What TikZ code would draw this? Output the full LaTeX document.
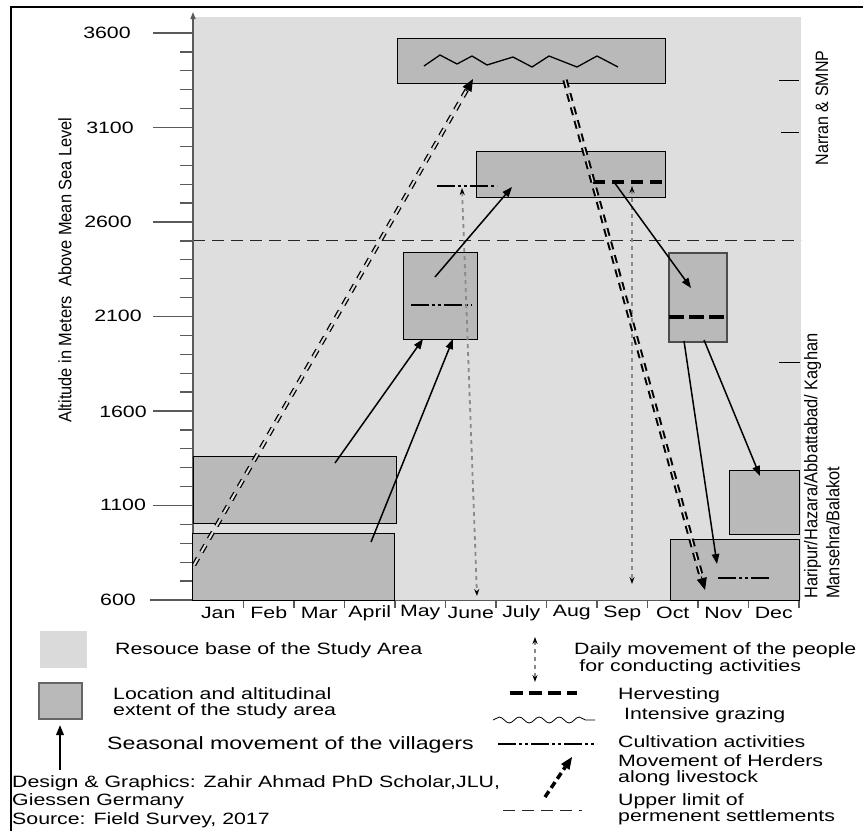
\documentclass[tikz,border=0pt]{standalone}
\usepackage{fontspec}
\setmainfont{Liberation Sans}
\newcommand{\wtx}[1]{\scalebox{1.3}[1]{#1}}
\newcommand{\wtab}[1]{\scalebox{1.3}[1]{\begin{tabular}{@{}l@{}}#1\end{tabular}}}
\usetikzlibrary{arrows.meta,decorations.pathmorphing,calc}
\definecolor{plotbg}{HTML}{DEDEDE}
\definecolor{legbg}{HTML}{DADADA}
\definecolor{boxfill}{HTML}{B9B9B9}
\definecolor{axisgray}{HTML}{5A5A5A}
\definecolor{dotgray}{HTML}{8A8A8A}
\definecolor{legborder}{HTML}{666666}
\begin{document}
\begin{tikzpicture}[x=1pt,y=-1pt,
  lbl/.style={inner sep=0pt, font=\fontsize{16.4}{15.5}\selectfont},
  legtext/.style={lbl, anchor=west},
  areabox/.style={draw=black, line width=1.1pt, fill=boxfill, inner sep=0pt, anchor=north west},
  villager/.style={draw=black, line width=1.5pt, -{Triangle[length=10pt,width=7.5pt]}},
  herdline/.style={draw=black, line width=1.3pt, double=plotbg, double distance=2pt, dash pattern=on 8pt off 7pt},
  herdbold/.style={draw=black, line width=2pt, double=plotbg, double distance=1.3pt, dash pattern=on 8pt off 6pt},
  herdtip/.style={draw=black, line width=1pt, -{Triangle[length=12pt,width=10pt]}},
  daily/.style={draw=dotgray, line width=1.8pt, dash pattern=on 4pt off 4pt, {Stealth[length=7pt,width=5pt,color=black]}-{Stealth[length=7pt,width=5pt,color=black]}},
  harvest/.style={draw=black, line width=4pt, dash pattern=on 12pt off 7pt},
  cultiv/.style={draw=black, line width=2.2pt, dash pattern=on 18pt off 3pt on 3pt off 3pt on 3pt off 3pt},
  limitline/.style={draw=black!85, line width=1pt, dash pattern=on 12pt off 7pt},
  minortick/.style={draw=axisgray, line width=1.3pt},
]
\useasboundingbox (0,0) rectangle (863,831);
% frame
\draw[black, line width=1.2pt] (11,831) -- (11,7) -- (863,7);
% plot background
\fill[plotbg] (193,17) rectangle (801,600);
% upper limit of permanent settlements
\draw[limitline] (193,240) -- (801,240);
% ticks
\foreach \i in {0,...,30} {\pgfmathsetmacro\yy{600-\i*18.9}\draw[minortick] (180,\yy) -- (193,\yy);}
\foreach \i in {5,10,...,30} {\pgfmathsetmacro\yy{600-\i*18.9}\draw[minortick] (153,\yy) -- (193,\yy);}
\draw[minortick] (150,600) -- (193,600);
\foreach \t/\x/\y in {3600/107/33,3100/110/128,2600/108/222,2100/118/316,1600/123/412,1100/123/505,600/118/600}
  \node[lbl] (tick\t) at (\x,\y) {\wtx{\t}};
% x axis
\draw[axisgray, line width=1pt] (193,600) -- (800,600);
\foreach \i in {1,...,12} \draw[axisgray, line width=1.2pt] ({193+50.5*\i},600) -- ({193+50.5*\i},608);
\foreach \m [count=\i from 0] in {Jan,Feb,Mar,April,May,June,July,Aug,Sep,Oct,Nov,Dec}
  \node[lbl] (month\i) at ({193+50.5*(\i+0.5)},613) {\wtx{\m}};
% y axis
\draw[axisgray, line width=1.5pt, -{Triangle[length=7pt,width=5pt]}] (193,600) -- (193,12);
% right ticks
\draw[black, line width=0.9pt] (779,80) -- (799,80);
\draw[black, line width=0.9pt] (781,132) -- (799,132);
\draw[black, line width=0.9pt] (779,362) -- (800,362);
% boxes
\node[areabox, minimum width=268pt, minimum height=45pt] (btop) at (397,38) {};
\node[areabox, minimum width=189pt, minimum height=46pt] (bjul) at (476,151) {};
\node[areabox, minimum width=74pt, minimum height=87pt] (bmay) at (403,252) {};
\node[areabox, minimum width=58pt, minimum height=89pt, draw=black!70, line width=1.5pt] (boct) at (668,252) {};
\node[areabox, minimum width=203pt, minimum height=67pt] (bjanhi) at (193,456) {};
\node[areabox, minimum width=202pt, minimum height=67pt] (bjanlo) at (192,533) {};
\node[areabox, minimum width=70pt, minimum height=64pt] (bdechi) at (729,470) {};
\node[areabox, minimum width=129pt, minimum height=61pt] (bdeclo) at (670,539) {};
% intensive grazing
\draw[black, line width=1.3pt, line join=miter] (424,66) -- (440,55) -- (457,64) -- (472,56) -- (487,65) -- (513,57) -- (532,67) -- (549,56) -- (577,67) -- (597,56) -- (618,67);
% cultivation
\draw[cultiv] (411,305) -- (472,305);
\draw[cultiv] (437,186) -- (497,186);
\draw[cultiv] (718,578) -- (771,578);
% harvesting
\draw[harvest] (593,182) -- (663,182);
\draw[harvest, dash pattern=on 15pt off 5pt, line width=4.5pt] (669,317) -- (726,317);
% daily movement
\coordinate (d1a) at (462,188); \coordinate (d1b) at (477,596);
\coordinate (d2a) at (632,186); \coordinate (d2b) at (632,584);
\draw[daily] (d1a) -- (d1b);
\draw[daily] (d2a) -- (d2b);
% seasonal movement of villagers
\coordinate (v1a) at (335,463); \coordinate (v1b) at (423,339);
\coordinate (v2a) at (371,542); \coordinate (v2b) at (453,339);
\coordinate (v3a) at (435,277); \coordinate (v3b) at (512,187);
\coordinate (v4a) at (614,182); \coordinate (v4b) at (691,288);
\coordinate (v5a) at (684,341); \coordinate (v5b) at (717,564);
\coordinate (v6a) at (704,340); \coordinate (v6b) at (760,476);
\foreach \v in {v1,v2,v3,v4,v5,v6} \draw[villager] (\v a) -- (\v b);
% herders
\coordinate (h1a) at (194,565); \coordinate (h1b) at (473,79);
\coordinate (h2a) at (565,80); \coordinate (h2b) at (705,590);
\draw[herdline, shorten >=10pt] (h1a) -- (h1b);
\draw[herdtip] ($(h1b)!14pt!(h1a)$) -- (h1b);
\draw[herdbold, shorten >=10pt] (h2a) -- (h2b);
\draw[herdtip] ($(h2b)!14pt!(h2a)$) -- (h2b);
% side labels
\node[inner sep=0pt] (ylab) at (65,270) {\scalebox{1.1}[1]{\rotatebox{90}{\fontsize{16.4}{18}\selectfont Altitude in Meters\ \ Above Mean Sea Level}}};
\node[inner sep=0pt] (narran) at (822,108) {\scalebox{1.12}[1]{\rotatebox{90}{\fontsize{16}{18}\selectfont Narran \& SMNP}}};
\node[inner sep=0pt, anchor=south] (hari) at (824,599) {\scalebox{1.12}[1]{\rotatebox{90}{\fontsize{16.4}{19.6}\selectfont\begin{tabular}{@{}l@{}}Haripur/Hazara/Abbattabad/ Kaghan\\Mansehra/Balakot\end{tabular}}}};
% legend left
\fill[legbg] (40,631) rectangle (87,668);
\draw[draw=legborder, line width=2.5pt, fill=boxfill] (39,683) rectangle (82,719);
\coordinate (lva) at (60,770); \coordinate (lvb) at (60,725);
\draw[villager, line width=2pt] (lva) -- (lvb);
\node[legtext] (t1) at (115,650) {\wtx{Resouce base of the Study Area}};
\node[legtext] (t2) at (113,704) {\wtab{Location and altitudinal\\extent of the study area}};
\node[legtext, font=\fontsize{17.8}{18}\selectfont] (t3) at (107,745) {\wtx{Seasonal movement of the villagers}};
\node[legtext, font=\fontsize{16.4}{18}\selectfont] (t4) at (12,793) {\wtab{Design \& Graphics: Zahir Ahmad PhD Scholar,JLU,\\Giessen Germany}};
\node[legtext] (t5) at (12,820) {\wtx{Source: Field Survey, 2017}};
% legend right
\coordinate (lda) at (535,637); \coordinate (ldb) at (535,682);
\draw[daily] (lda) -- (ldb);
\node[legtext] (r1) at (574,659.5) {\wtab{Daily movement of the people\\\hspace{4pt}for conducting activities}};
\draw[harvest, line width=3.5pt, dash pattern=on 13pt off 6pt] (510,693) -- (577,693);
\node[legtext] (r2) at (618,695) {\wtx{Hervesting}};
\draw[decorate, decoration={snake, amplitude=3pt, segment length=20pt}, line width=0.8pt] (493,720) -- (595,720);
\node[legtext] (r3) at (624,715) {\wtx{Intensive grazing}};
\draw[cultiv] (498,744) -- (597,744);
\node[legtext] (r4) at (618,742) {\wtx{Cultivation activities}};
\coordinate (lha) at (545,797); \coordinate (lhb) at (572,757);
\draw[black, line width=3.5pt, dash pattern=on 7pt off 4pt, shorten >=8pt] (lha) -- (lhb);
\draw[herdtip] ($(lhb)!13pt!(lha)$) -- (lhb);
\node[legtext] (r5) at (618,771) {\wtab{Movement of Herders\\along livestock}};
\draw[limitline] (503,810) -- (582,810);
\node[legtext] (r6) at (618,810) {\wtab{Upper limit of\\permenent settlements}};
\end{tikzpicture}
\end{document}
